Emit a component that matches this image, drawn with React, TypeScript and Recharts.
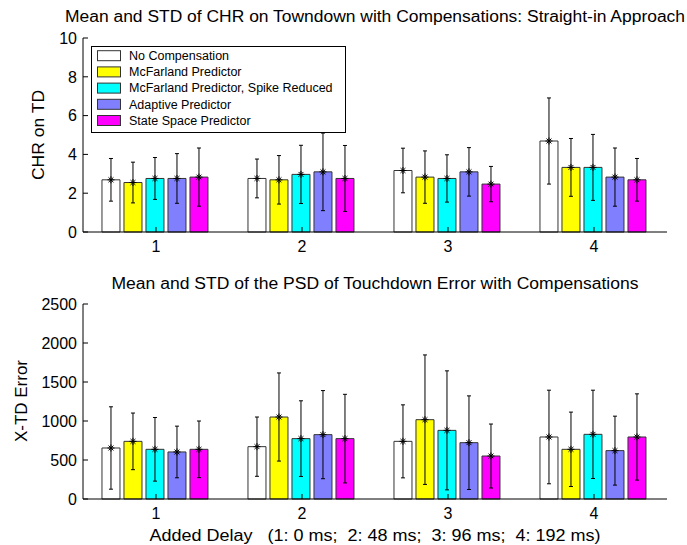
import { BarChart, Bar, XAxis, YAxis, ErrorBar } from "recharts";

const delays = ["1", "2", "3", "4"];
const seriesNames = [
  "No Compensation",
  "McFarland Predictor",
  "McFarland Predictor, Spike Reduced",
  "Adaptive Predictor",
  "State Space Predictor",
];
const seriesColors = ["#ffffff", "#ffff00", "#00ffff", "#8080ff", "#ff00ff"];

// CHR on TD, mean per delay
const chrNoComp = [2.69, 2.76, 3.17, 4.69];
const chrMcf = [2.55, 2.69, 2.83, 3.33];
const chrMcfSpike = [2.76, 2.97, 2.76, 3.33];
const chrAdaptive = [2.76, 3.1, 3.1, 2.83];
const chrStateSpace = [2.83, 2.76, 2.47, 2.69];
// CHR on TD, std per delay
const chrNoCompStd = [1.1, 1.0, 1.15, 2.22];
const chrMcfStd = [1.05, 1.25, 1.35, 1.49];
const chrMcfSpikeStd = [1.08, 1.5, 1.22, 1.7];
const chrAdaptiveStd = [1.28, 2.0, 1.25, 1.5];
const chrStateSpaceStd = [1.5, 1.7, 0.91, 1.1];

// PSD of touchdown error, mean per delay
const psdNoComp = [654, 671, 739, 795];
const psdMcf = [739, 1051, 1017, 637];
const psdMcfSpike = [637, 774, 880, 829];
const psdAdaptive = [603, 825, 722, 620];
const psdStateSpace = [637, 774, 551, 795];
// PSD std per delay
const psdNoCompStd = [528, 380, 468, 600];
const psdMcfStd = [363, 565, 830, 477];
const psdMcfSpikeStd = [408, 485, 763, 566];
const psdAdaptiveStd = [331, 565, 600, 442];
const psdStateSpaceStd = [363, 568, 410, 553];

const chrTicks = [0, 2, 4, 6, 8, 10];
const psdTicks = [0, 500, 1000, 1500, 2000, 2500];

const FONT = "'Liberation Sans', Arial, sans-serif";

function buildRows(means: number[][], stds: number[][]) {
  return delays.map((d, i) => {
    const row: any = { delay: d };
    means.forEach((m, k) => {
      row["m" + k] = m[i];
      row["s" + k] = stds[k][i];
    });
    return row;
  });
}

const chrRows = buildRows(
  [chrNoComp, chrMcf, chrMcfSpike, chrAdaptive, chrStateSpace],
  [chrNoCompStd, chrMcfStd, chrMcfSpikeStd, chrAdaptiveStd, chrStateSpaceStd]
);
const psdRows = buildRows(
  [psdNoComp, psdMcf, psdMcfSpike, psdAdaptive, psdStateSpace],
  [psdNoCompStd, psdMcfStd, psdMcfSpikeStd, psdAdaptiveStd, psdStateSpaceStd]
);

// asterisk marker at the mean
const Star = (props: any) => {
  const { x, y, width } = props;
  const cx = x + width / 2;
  const r = 3.5;
  const d = r * 0.7;
  return (
    <g stroke="#000" strokeWidth={1}>
      <line x1={cx - r} y1={y} x2={cx + r} y2={y} />
      <line x1={cx} y1={y - r} x2={cx} y2={y + r} />
      <line x1={cx - d} y1={y - d} x2={cx + d} y2={y + d} />
      <line x1={cx - d} y1={y + d} x2={cx + d} y2={y - d} />
    </g>
  );
};

// ticks point inward, MATLAB style
const LeftTick = (p: any) => {
  const edge = p.x + 6;
  return (
    <g>
      <line x1={edge} x2={edge + 5} y1={p.y} y2={p.y} stroke="#000" />
      <text x={p.x} y={p.y} dy="0.36em" textAnchor="end" fontSize={16} fill="#000" fontFamily={FONT}>
        {p.payload.value}
      </text>
    </g>
  );
};

const RightTick = (p: any) => (
  <line x1={p.x - 5} x2={p.x} y1={p.y} y2={p.y} stroke="#000" />
);

const BottomTick = (p: any) => {
  const edge = p.y - 9;
  return (
    <g>
      <line x1={p.x} x2={p.x} y1={edge} y2={edge - 5} stroke="#000" />
      <text x={p.x} y={p.y} dy="0.71em" textAnchor="middle" fontSize={16} fill="#000" fontFamily={FONT}>
        {p.payload.value}
      </text>
    </g>
  );
};

const TopTick = (p: any) => (
  <line x1={p.x} x2={p.x} y1={p.y} y2={p.y + 5} stroke="#000" />
);

type PanelProps = {
  rows: any[];
  ticks: number[];
  height: number;
  top: number;
  bottom: number;
};

const Panel = ({ rows, ticks, height, top, bottom }: PanelProps) => (
  <BarChart
    width={687}
    height={height}
    data={rows}
    margin={{ top, bottom, left: 43, right: 20 }}
    barCategoryGap="13%"
    barGap={4}
    style={{ fontFamily: FONT }}
  >
    <XAxis
      dataKey="delay"
      height={20}
      tickSize={4}
      tickMargin={5}
      tickLine={false}
      interval={0}
      axisLine={{ stroke: "#000" }}
      tick={<BottomTick />}
    />
    <XAxis
      xAxisId="top"
      orientation="top"
      dataKey="delay"
      height={0}
      tickSize={0}
      tickMargin={0}
      tickLine={false}
      interval={0}
      axisLine={{ stroke: "#000" }}
      tick={<TopTick />}
    />
    <YAxis
      type="number"
      domain={[ticks[0], ticks[ticks.length - 1]]}
      ticks={ticks}
      interval={0}
      width={40}
      tickSize={4}
      tickMargin={2}
      tickLine={false}
      axisLine={{ stroke: "#000" }}
      tick={<LeftTick />}
    />
    <YAxis
      yAxisId="right"
      orientation="right"
      type="number"
      domain={[ticks[0], ticks[ticks.length - 1]]}
      ticks={ticks}
      interval={0}
      width={0}
      tickSize={0}
      tickMargin={0}
      tickLine={false}
      axisLine={{ stroke: "#000" }}
      tick={<RightTick />}
    />
    {seriesNames.map((name, k) => (
      <Bar
        key={name}
        dataKey={"m" + k}
        name={name}
        fill={seriesColors[k]}
        stroke="#333"
        strokeWidth={1}
        isAnimationActive={false}
        label={<Star />}
      >
        <ErrorBar dataKey={"s" + k} width={2} stroke="#000" strokeWidth={1} />
      </Bar>
    ))}
  </BarChart>
);

export default function App() {
  return (
    <div style={{ position: "absolute", left: 0, top: 0, width: 687, height: 545, background: "#fff" }}>
      <div style={{ position: "absolute", left: 0, top: 0 }}>
        <Panel rows={chrRows} ticks={chrTicks} height={270} top={38} bottom={18} />
      </div>
      <div style={{ position: "absolute", left: 0, top: 270 }}>
        <Panel rows={psdRows} ticks={psdTicks} height={275} top={34} bottom={26} />
      </div>
      <svg
        width={687}
        height={545}
        style={{ position: "absolute", left: 0, top: 0, pointerEvents: "none" }}
        fontFamily={FONT}
      >
        <text x={375} y={22} textAnchor="middle" fontSize={16} fill="#000" textLength={620} lengthAdjust="spacingAndGlyphs">
          Mean and STD of CHR on Towndown with Compensations: Straight-in Approach
        </text>
        <text x={375} y={289} textAnchor="middle" fontSize={16} fill="#000" textLength={527} lengthAdjust="spacingAndGlyphs">
          Mean and STD of the PSD of Touchdown Error with Compensations
        </text>
        <text x={44} y={135} textAnchor="middle" fontSize={16} fill="#000" transform="rotate(-90 44 135)" textLength={90} lengthAdjust="spacingAndGlyphs">
          CHR on TD
        </text>
        <text x={27} y={401} textAnchor="middle" fontSize={16} fill="#000" transform="rotate(-90 27 401)" textLength={82} lengthAdjust="spacingAndGlyphs">
          X-TD Error
        </text>
        <text x={375} y={541} textAnchor="middle" fontSize={16} fill="#000" style={{ whiteSpace: "pre" }} textLength={451} lengthAdjust="spacingAndGlyphs">
          {"Added Delay   (1: 0 ms;  2: 48 ms;  3: 96 ms;  4: 192 ms)"}
        </text>
        <g>
          <rect x={91.5} y={46.5} width={254} height={86} fill="#fff" stroke="#000" />
          {seriesNames.map((n, k) => {
            const cy = 55.7 + k * 16.2;
            return (
              <g key={n}>
                <rect x={97.5} y={cy - 5} width={23} height={10} fill={seriesColors[k]} stroke="#333" />
                <text x={129} y={cy} dy="0.35em" fontSize={12.5} fill="#000">
                  {n}
                </text>
              </g>
            );
          })}
        </g>
      </svg>
    </div>
  );
}
